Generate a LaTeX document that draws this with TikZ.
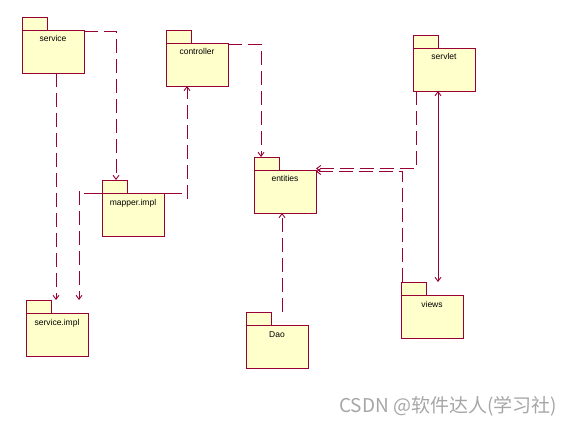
\documentclass[tikz,border=0pt]{standalone}
\usepackage{fontspec}
\setmainfont{Liberation Sans}
\newfontfamily\cjkfont{Noto Sans CJK SC}
\usetikzlibrary{arrows.meta}
\definecolor{pkgborder}{HTML}{990033}
\definecolor{pkgfill}{HTML}{FFFFCC}
\definecolor{wmgray}{HTML}{A6A6A6}
\tikzset{
  pkgbody/.style={draw=pkgborder, fill=pkgfill, line width=0.9pt, minimum width=62pt, minimum height=43pt, inner sep=0pt, outer sep=0pt},
  pkgtab/.style={draw=pkgborder, fill=pkgfill, line width=0.9pt, minimum width=25pt, minimum height=13pt, inner sep=0pt, outer sep=0pt},
  pkglabel/.style={font=\fontsize{8.5}{9}\selectfont, inner sep=0pt},
  dep/.style={draw=pkgborder, line width=0.9pt, dash pattern=on 14pt off 6pt, -{Straight Barb[length=4pt,width=6pt]}},
  solidline/.style={draw=pkgborder, line width=0.9pt},
  assoc/.style={draw=pkgborder, line width=0.9pt, {Straight Barb[length=4pt,width=6pt]}-{Straight Barb[length=4pt,width=6pt]}},
}
\newcommand\pkgbox[4]{%
  \node[pkgtab, anchor=south west] (#1-tab) at (#2,#3) {};
  \node[pkgbody, anchor=north west] (#1) at (#2,#3) {};
  \node[pkglabel, anchor=base] (#1-l) at ([yshift=-12pt]#1.north) {#4};
}
\begin{document}
\begin{tikzpicture}[x=1pt,y=-1pt]
\useasboundingbox (0,0) rectangle (577,430);
\pkgbox{service}{22}{30}{service}
\pkgbox{controller}{166}{43}{controller}
\pkgbox{mapper}{102}{193}{mapper.impl}
\pkgbox{entities}{254}{170}{entities}
\pkgbox{servlet}{413}{48}{servlet}
\pkgbox{simpl}{26}{313}{service.impl}
\pkgbox{dao}{246}{325}{Dao}
\pkgbox{views}{401}{295}{views}

% service -> mapper.impl
\draw[dep] ([yshift=-1.5pt]service.north east) -| ([xshift=1.5pt]mapper-tab.north);
% service -> service.impl
\draw[dep] ([xshift=3pt]service.south) -- ([xshift=3pt]service.south |- simpl-tab.north);
% controller -> entities
\draw[dep] ([yshift=-1pt]controller.north east) -| ([xshift=-5.5pt]entities-tab.north);
% odd connector: service.impl / mapper line / controller
\coordinate (jr) at ([xshift=-10pt]controller.south |- mapper.north);
\coordinate (jl) at (79,193);
\draw[dep] ([yshift=-6pt]jr) -- ([xshift=-10pt]controller.south);
\draw[solidline] ([xshift=5pt]jl) -- ([xshift=-5pt]jr);
\draw[dep] ([yshift=2pt]jl) -- (jl |- simpl-tab.north);
% servlet -> entities
\draw[dep] ([xshift=-28pt]servlet.south) |- ([yshift=1.5pt]entities.north east);
% views -> entities
\draw[dep] ([xshift=1pt]views-tab.north west) |- ([yshift=-1.5pt]entities.north east);
% servlet <-> views
\draw[assoc] ([xshift=-6pt]servlet.south) -- ([xshift=-6pt]servlet.south |- views-tab.north);
% Dao -> entities
\draw[dep] ([xshift=5pt]dao.north |- dao-tab.north) -- ([xshift=-3pt]entities.south);

\node[anchor=west, inner sep=0pt, text=wmgray, font=\cjkfont\fontsize{19}{20}\selectfont] (wm) at (339,406) {CSDN @软件达人(学习社)};
\end{tikzpicture}
\end{document}
